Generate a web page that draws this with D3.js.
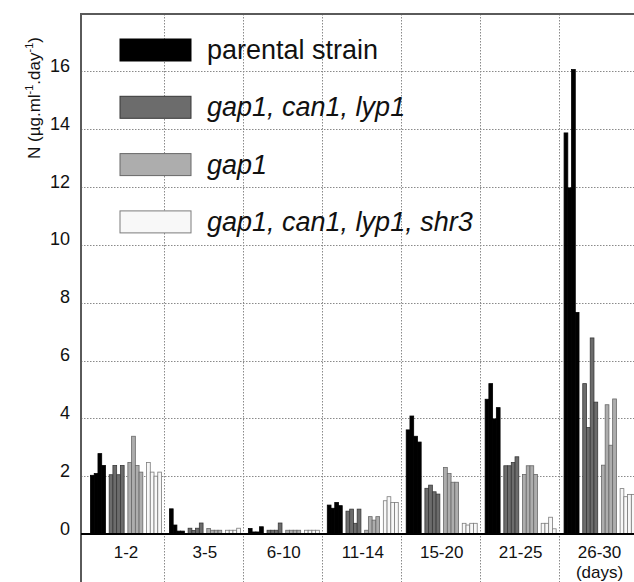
<!DOCTYPE html>
<html>
<head>
<meta charset="utf-8">
<script src="https://cdn.jsdelivr.net/npm/d3@7"></script>
<style>
  body { margin: 0; background: #fff; }
  svg { display: block; font-family: "Liberation Sans", Arial, sans-serif; }
</style>
</head>
<body>
<div id="chart"></div>
<script>
// periods (days) and strains
const periods = ["1-2", "3-5", "6-10", "11-14", "15-20", "21-25", "26-30"];
const strains = ["parental strain", "gap1, can1, lyp1", "gap1", "gap1, can1, lyp1, shr3"];

// 4 replicate values per period, one array per strain
const parental = [
  [2.03, 2.09, 2.78, 2.37], [0.87, 0.31, 0.1, 0.1], [0.19, 0.07, 0.07, 0.25],
  [1.0, 0.89, 1.09, 0.98], [3.6, 4.08, 3.38, 3.18], [4.66, 5.2, 3.98, 4.37],
  [13.87, 11.97, 16.06, 7.66]
];
const gapCanLyp = [
  [2.05, 2.37, 2.05, 2.37], [0.2, 0.12, 0.2, 0.38], [0.13, 0.13, 0.13, 0.38],
  [0.79, 0.86, 0.37, 0.86], [1.58, 1.69, 1.46, 1.38], [2.36, 2.36, 2.47, 2.67],
  [5.2, 3.68, 6.78, 4.56]
];
const gap = [
  [2.47, 3.38, 2.37, 2.14], [0.19, 0.13, 0.13, 0.13], [0.13, 0.13, 0.13, 0.13],
  [0.13, 0.6, 0.48, 0.6], [2.3, 2.09, 1.79, 1.79], [2.06, 2.36, 2.36, 2.06],
  [2.38, 4.47, 3.07, 4.67]
];
const gapCanLypShr = [
  [2.47, 2.14, 2.0, 2.14], [0.13, 0.13, 0.13, 0.2], [0.13, 0.13, 0.13, 0.13],
  [1.15, 1.29, 1.09, 1.09], [0.37, 0.31, 0.37, 0.37], [0.37, 0.37, 0.58, 0.18],
  [1.57, 1.29, 1.37, 1.37]
];
const yTicks = [0, 2, 4, 6, 8, 10, 12, 14, 16];

const series = [parental, gapCanLyp, gap, gapCanLypShr];
const fills = ["#000000", "#6c6c6c", "#adadad", "#f8f8f8"];
const strokes = ["#000000", "#383838", "#686868", "#7c7c7c"];

const W = 634, H = 582;
const axisX = 81, plotTop = 14, plotBottom = 600;

const svg = d3.select("#chart").append("svg")
  .attr("width", W)
  .attr("height", H);

// scales
const y = d3.scaleLinear().domain([0, 18]).range([534, 13.5]);
const x = d3.scaleBand().domain(periods).range([85.5, 638]).padding(0);
const xStrain = d3.scaleBand().domain(d3.range(4)).range([5, 76]).paddingInner(0.2);
const xRep = d3.scaleBand().domain(d3.range(4)).range([0, xStrain.bandwidth()]);

// grid lines
const grid = svg.append("g")
  .attr("stroke", "#8a8a8a")
  .attr("stroke-width", 1)
  .attr("stroke-dasharray", "1.5,1.5");

grid.selectAll("line.h")
  .data(yTicks.filter(d => d > 0))
  .join("line")
  .attr("class", "h")
  .attr("x1", axisX).attr("x2", W)
  .attr("y1", d => Math.round(y(d)) + 0.5)
  .attr("y2", d => Math.round(y(d)) + 0.5);

grid.selectAll("line.v")
  .data(periods.slice(1))
  .join("line")
  .attr("class", "v")
  .attr("x1", d => Math.round(x(d)) + 0.5)
  .attr("x2", d => Math.round(x(d)) + 0.5)
  .attr("y1", plotTop).attr("y2", plotBottom);

// bars
const groups = svg.append("g").selectAll("g")
  .data(periods)
  .join("g")
  .attr("transform", d => `translate(${x(d)},0)`);

groups.each(function(p, pi) {
  const g = d3.select(this);
  series.forEach((s, si) => {
    g.append("g")
      .attr("transform", `translate(${xStrain(si)},0)`)
      .selectAll("rect")
      .data(s[pi])
      .join("rect")
      .attr("x", (d, i) => xRep(i))
      .attr("y", d => y(d))
      .attr("width", xRep.bandwidth())
      .attr("height", d => y(0) - y(d))
      .attr("fill", fills[si])
      .attr("stroke", strokes[si])
      .attr("stroke-width", 0.8);
  });
});

// frame: top border, left axis, zero line
svg.append("line")
  .attr("x1", axisX - 1).attr("x2", W)
  .attr("y1", plotTop).attr("y2", plotTop)
  .attr("stroke", "#5a5a5a").attr("stroke-width", 2);

svg.append("line")
  .attr("x1", axisX).attr("x2", axisX)
  .attr("y1", plotTop - 1).attr("y2", plotBottom)
  .attr("stroke", "#5a5a5a").attr("stroke-width", 2);

svg.append("line")
  .attr("x1", axisX).attr("x2", W)
  .attr("y1", y(0)).attr("y2", y(0))
  .attr("stroke", "#000").attr("stroke-width", 2);

// y tick labels
svg.append("g").selectAll("text")
  .data(yTicks)
  .join("text")
  .attr("x", 70)
  .attr("y", d => y(d) + 0.5)
  .attr("text-anchor", "end")
  .style("font-size", "18px")
  .attr("fill", "#111")
  .text(d => d);

// x labels
svg.append("g").selectAll("text")
  .data(periods)
  .join("text")
  .attr("x", d => x(d) + x.bandwidth() / 2 + 1)
  .attr("y", 558)
  .attr("text-anchor", "middle")
  .style("font-size", "17px")
  .attr("fill", "#111")
  .text(d => d);

svg.append("text")
  .attr("x", x("26-30") + x.bandwidth() / 2 + 1)
  .attr("y", 578)
  .attr("text-anchor", "middle")
  .style("font-size", "17px")
  .attr("fill", "#111")
  .text("(days)");

// y axis title
const yTitle = svg.append("text")
  .attr("transform", "translate(40,98) rotate(-90)")
  .attr("text-anchor", "middle")
  .style("font-size", "17px")
  .attr("fill", "#111");
yTitle.append("tspan").text("N (µg.ml");
yTitle.append("tspan").attr("dy", -7).style("font-size", "11px").text("-1");
yTitle.append("tspan").attr("dy", 7).text(".day");
yTitle.append("tspan").attr("dy", -7).style("font-size", "11px").text("-1");
yTitle.append("tspan").attr("dy", 7).text(")");

// legend
const legend = svg.append("g");
strains.forEach((s, i) => {
  const ly = 39 + i * 57.3;
  legend.append("rect")
    .attr("x", 120).attr("y", ly)
    .attr("width", 71).attr("height", 22)
    .attr("fill", fills[i])
    .attr("stroke", i === 0 ? "#000" : strokes[i])
    .attr("stroke-width", 1);
  legend.append("text")
    .attr("x", 207).attr("y", ly + 20)
    .style("font-size", "27px")
    .style("font-style", i === 0 ? "normal" : "italic")
    .attr("fill", "#111")
    .text(s);
});
</script>
</body>
</html>
